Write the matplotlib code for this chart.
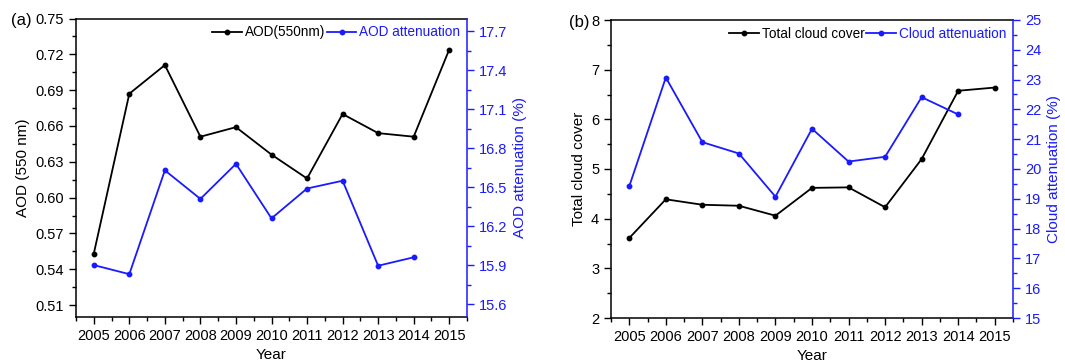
import matplotlib
matplotlib.use("Agg")
import matplotlib.pyplot as plt
from matplotlib.ticker import MultipleLocator, FormatStrFormatter
import numpy as np

plt.rcParams['font.family'] = ['Liberation Sans', 'DejaVu Sans']

years = [2005, 2006, 2007, 2008, 2009, 2010, 2011, 2012, 2013, 2014, 2015]
aod = [0.553, 0.687, 0.711, 0.651, 0.659, 0.636, 0.616, 0.670, 0.654, 0.651, 0.724]
aod_years_att = [2005, 2006, 2007, 2008, 2009, 2010, 2011, 2012, 2013, 2014]
aod_att = [15.90, 15.83, 16.63, 16.41, 16.68, 16.26, 16.49, 16.55, 15.895, 15.96]
cloud = [3.61, 4.39, 4.28, 4.26, 4.06, 4.62, 4.63, 4.23, 5.20, 6.575, 6.64]
cloud_att = [19.42, 23.07, 20.90, 20.52, 19.07, 21.35, 20.25, 20.41, 22.41, 21.83]

BLUE = '#1a1aff'
W, H = 1065, 364
fig = plt.figure(figsize=(W / 100, H / 100), dpi=100)


def make_panel(rect, left_y, right_y, xy_left, xy_right, llim, rlim, lmaj, lmin, rmaj, rmin,
               lfmt, rfmt, llabel, rlabel, lname, rname, tag, tagpos):
    ax = fig.add_axes(rect)
    ax2 = ax.twinx()
    l1, = ax.plot(xy_left, left_y, color='black', lw=1.3, marker='o', ms=3.2, label=lname)
    l2, = ax2.plot(xy_right, right_y, color=BLUE, lw=1.3, marker='o', ms=3.2, label=rname)
    ax.set_xlim(2004.5, 2015.5)
    ax.set_ylim(*llim)
    ax2.set_ylim(*rlim)
    ax.xaxis.set_major_locator(MultipleLocator(1))
    ax.xaxis.set_minor_locator(MultipleLocator(0.5))
    ax.yaxis.set_major_locator(MultipleLocator(lmaj))
    ax.yaxis.set_minor_locator(MultipleLocator(lmin))
    ax.yaxis.set_major_formatter(FormatStrFormatter(lfmt))
    ax2.yaxis.set_major_locator(MultipleLocator(rmaj))
    ax2.yaxis.set_minor_locator(MultipleLocator(rmin))
    ax2.yaxis.set_major_formatter(FormatStrFormatter(rfmt))
    ax.tick_params(axis='both', which='major', direction='out', length=5, width=1, labelsize=10.5)
    ax.tick_params(axis='both', which='minor', direction='out', length=3, width=1)
    ax2.tick_params(axis='y', which='major', direction='out', length=5, width=1, labelsize=10.5,
                    colors=BLUE)
    ax2.tick_params(axis='y', which='minor', direction='out', length=3, width=1, colors=BLUE)
    for sp in ['left', 'bottom', 'top']:
        ax.spines[sp].set_linewidth(1.1)
    ax2.spines['right'].set_color(BLUE)
    ax2.spines['right'].set_linewidth(1.1)
    ax.spines['right'].set_visible(False)
    ax2.spines['left'].set_visible(False)
    ax2.spines['top'].set_visible(False)
    ax2.spines['bottom'].set_visible(False)
    ax.set_xlabel('Year', fontsize=11)
    ax.set_ylabel(llabel, fontsize=11)
    ax2.set_ylabel(rlabel, fontsize=11, color=BLUE)
    leg = ax2.legend(handles=[l1, l2], loc='upper right', ncol=2, frameon=False,
                     fontsize=9.8, handlelength=2.2, handletextpad=0.2, columnspacing=0.1,
                     borderaxespad=0.3, borderpad=0.2)
    texts = leg.get_texts()
    texts[0].set_color('black')
    texts[1].set_color(BLUE)
    fig.text(tagpos[0], tagpos[1], tag, fontsize=12, ha='left', va='center')
    return ax, ax2


def r(l, t, r_, b):
    return [l / W, 1 - b / H, (r_ - l) / W, (b - t) / H]


make_panel(r(76, 18.5, 467, 317), aod, aod_att, years, aod_years_att,
           (0.50, 0.75), (15.5, 17.8), 0.03, 0.015, 0.3, 0.15, '%.2f', '%.1f',
           'AOD (550 nm)', 'AOD attenuation (%)', 'AOD(550nm)', 'AOD attenuation',
           '(a)', (11 / W, 1 - 21 / H))

make_panel(r(611, 20, 1013, 318), cloud, cloud_att, years, aod_years_att,
           (2, 8), (15, 25), 1, 0.5, 1, 0.5, '%d', '%d',
           'Total cloud cover', 'Cloud attenuation (%)', 'Total cloud cover', 'Cloud attenuation',
           '(b)', (569 / W, 1 - 22 / H))

fig.savefig('out.png', dpi=100)
